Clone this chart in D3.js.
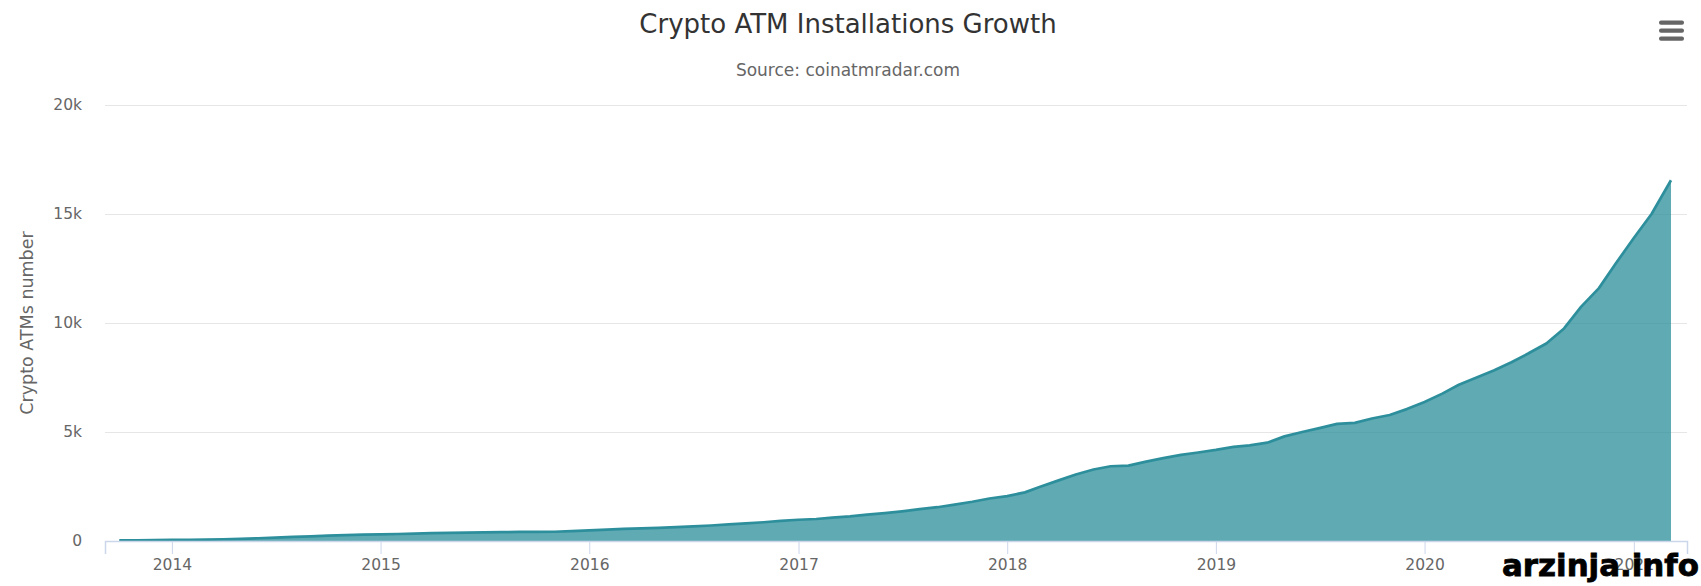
<!DOCTYPE html>
<html>
<head>
<meta charset="utf-8">
<script src="https://cdnjs.cloudflare.com/ajax/libs/d3/7.8.5/d3.min.js"></script>
<style>
	body { margin: 0; background: #fff; }
	svg { display: block; font-family: "DejaVu Sans", sans-serif; }
	.grid line { stroke: #e6e6e6; }
	.grid text, .x-axis text { fill: #666666; font-size: 15.5px; font-family: "DejaVu Sans", sans-serif; }
	.x-axis line, .x-axis path { stroke: #ccd6eb; }
</style>
</head>
<body>
<div id="chart-area"></div>
<script>

// chart data - monthly crypto ATM counts
let months = [
	"2013-10-01", "2013-11-01", "2013-12-01",
	"2014-01-01", "2014-02-01", "2014-03-01", "2014-04-01", "2014-05-01", "2014-06-01",
	"2014-07-01", "2014-08-01", "2014-09-01", "2014-10-01", "2014-11-01", "2014-12-01",
	"2015-01-01", "2015-02-01", "2015-03-01", "2015-04-01", "2015-05-01", "2015-06-01",
	"2015-07-01", "2015-08-01", "2015-09-01", "2015-10-01", "2015-11-01", "2015-12-01",
	"2016-01-01", "2016-02-01", "2016-03-01", "2016-04-01", "2016-05-01", "2016-06-01",
	"2016-07-01", "2016-08-01", "2016-09-01", "2016-10-01", "2016-11-01", "2016-12-01",
	"2017-01-01", "2017-02-01", "2017-03-01", "2017-04-01", "2017-05-01", "2017-06-01",
	"2017-07-01", "2017-08-01", "2017-09-01", "2017-10-01", "2017-11-01", "2017-12-01",
	"2018-01-01", "2018-02-01", "2018-03-01", "2018-04-01", "2018-05-01", "2018-06-01",
	"2018-07-01", "2018-08-01", "2018-09-01", "2018-10-01", "2018-11-01", "2018-12-01",
	"2019-01-01", "2019-02-01", "2019-03-01", "2019-04-01", "2019-05-01", "2019-06-01",
	"2019-07-01", "2019-08-01", "2019-09-01", "2019-10-01", "2019-11-01", "2019-12-01",
	"2020-01-01", "2020-02-01", "2020-03-01", "2020-04-01", "2020-05-01", "2020-06-01",
	"2020-07-01", "2020-08-01", "2020-09-01", "2020-10-01", "2020-11-01", "2020-12-01",
	"2021-01-01", "2021-02-01", "2021-03-07"
];

let atmCounts = [
	25, 35, 45,
	50, 55, 65, 80, 100, 125, 155, 185, 215, 245, 270, 290,
	305, 320, 340, 360, 375, 385, 395, 405, 415, 420, 425, 455,
	490, 525, 555, 580, 605, 635, 670, 710, 760, 810, 860, 920,
	975, 1010, 1070, 1130, 1210, 1280, 1360, 1460, 1550, 1670, 1800, 1950,
	2060, 2230, 2500, 2780, 3050, 3280, 3430, 3460, 3640, 3800, 3950, 4060,
	4180, 4320, 4390, 4510, 4800, 5000, 5180, 5370, 5420, 5620, 5780, 6050,
	6380, 6760, 7170, 7500, 7820, 8200, 8610, 9060, 9750, 10750, 11600, 12750,
	13900, 15000, 16550
];

let yTickValues = [0, 5000, 10000, 15000, 20000];
let yTickLabels = ["0", "5k", "10k", "15k", "20k"];

let chartTitle = "Crypto ATM Installations Growth";
let chartSubtitle = "Source: coinatmradar.com";
let yAxisTitle = "Crypto ATMs number";


// margin conventions
let margin = {top: 105, right: 14, bottom: 45, left: 105};

let width = 1701 - margin.left - margin.right;
let height = 586 - margin.top - margin.bottom;

let root = d3.select("#chart-area").append("svg")
	.attr("width", 1701)
	.attr("height", 586);

let svg = root.append("g")
	.attr("transform", "translate(" + margin.left + "," + margin.top + ")");

let parseDate = d3.timeParse("%Y-%m-%d");

let data = months.map((m, i) => ({date: parseDate(m), value: atmCounts[i]}));

// scales
let x = d3.scaleTime()
	.domain([new Date(2013, 8, 6), new Date(2021, 3, 4)])
	.range([0, width]);

let y = d3.scaleLinear()
	.domain([0, 20000])
	.range([height, 0]);

// gridlines + y labels
let yAxis = d3.axisLeft(y)
	.tickValues(yTickValues)
	.tickFormat((d, i) => yTickLabels[i])
	.tickSize(-width)
	.tickPadding(23);

svg.append("g")
	.attr("class", "grid")
	.call(yAxis)
	.call(g => g.select(".domain").remove());

// area + line
let area = d3.area()
	.x(d => x(d.date))
	.y0(y(0))
	.y1(d => y(d.value));

let line = d3.line()
	.x(d => x(d.date))
	.y(d => y(d.value));

svg.append("path")
	.attr("fill", "#2e8f9c")
	.attr("fill-opacity", 0.76)
	.attr("d", area(data));

svg.append("path")
	.attr("fill", "none")
	.attr("stroke", "#2e8f9c")
	.attr("stroke-width", 2.7)
	.attr("stroke-linejoin", "round")
	.attr("d", line(data));

// x axis
let xAxis = d3.axisBottom(x)
	.ticks(d3.timeYear.every(1))
	.tickFormat(d3.timeFormat("%Y"))
	.tickSizeOuter(0)
	.tickSize(13)
	.tickPadding(4.5);

svg.append("g")
	.attr("class", "x-axis")
	.attr("transform", "translate(0," + height + ")")
	.call(xAxis)
	.call(g => g.select(".domain").attr("stroke-width", 1.5));

// titles
root.append("text")
	.attr("x", 848)
	.attr("y", 33)
	.attr("text-anchor", "middle")
	.attr("fill", "#333333")
	.style("font-size", "26px")
	.text(chartTitle);

root.append("text")
	.attr("x", 848)
	.attr("y", 76)
	.attr("text-anchor", "middle")
	.attr("fill", "#666666")
	.style("font-size", "17px")
	.text(chartSubtitle);

root.append("text")
	.attr("transform", "translate(33," + (margin.top + height / 2) + ") rotate(-90)")
	.attr("text-anchor", "middle")
	.attr("fill", "#666666")
	.style("font-size", "17.5px")
	.text(yAxisTitle);

// export menu icon
root.append("g")
	.selectAll("rect")
	.data([20.5, 28.5, 36.5])
	.enter().append("rect")
	.attr("x", 1659)
	.attr("y", d => d)
	.attr("width", 25)
	.attr("height", 4.2)
	.attr("rx", 2)
	.attr("fill", "#666666");

// watermark
root.append("text")
	.attr("x", 1502)
	.attr("y", 576)
	.attr("textLength", 197)
	.attr("lengthAdjust", "spacingAndGlyphs")
	.attr("fill", "#000")
	.attr("stroke", "#000")
	.attr("stroke-width", 0.8)
	.style("font-size", "30px")
	.style("font-weight", "bold")
	.text("arzinja.info");

</script>
</body>
</html>
